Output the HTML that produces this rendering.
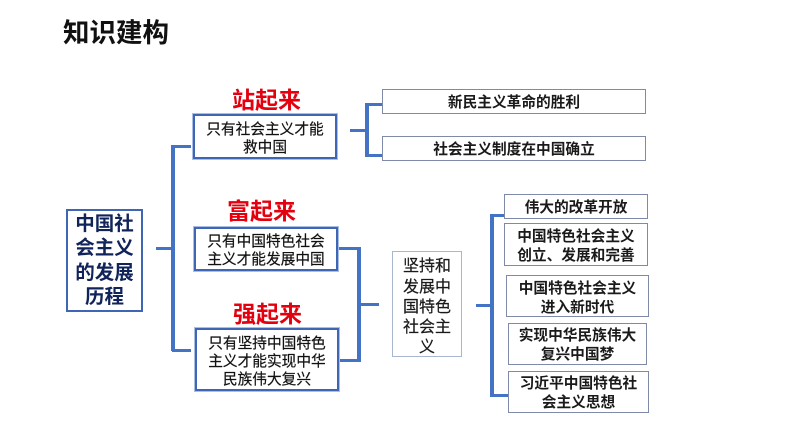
<!DOCTYPE html>
<html><head><meta charset="utf-8">
<style>
html,body{margin:0;padding:0;background:#fff}
#p{position:relative;width:794px;height:447px;overflow:hidden;background:#fff;font-family:"Liberation Sans","Noto Sans CJK SC",sans-serif;color:#111}
.l{position:absolute;background:#4472c4}
.b{position:absolute;box-sizing:border-box;background:#fff;display:flex;flex-direction:column;justify-content:center;align-items:center;text-align:center;white-space:nowrap}
.s{border:1px solid #7f89a8}
.d{border:2px solid #3f66b5;outline:1px solid #a9bfe6;font-size:14.7px;line-height:17.8px;-webkit-text-stroke:.2px #111}
.g{font-size:14.7px;font-weight:bold;line-height:19px;color:#1a1a1a}
.r{position:absolute;color:#e3000f;font-weight:bold;font-size:23px;line-height:28px;white-space:nowrap}
</style></head><body><div id="p">
<div style="position:absolute;left:63px;top:14px;font-size:26.5px;line-height:38px;font-weight:bold;color:#111;white-space:nowrap">知识建构</div>

<div class="l" style="left:171px;top:145px;width:3.5px;height:206px"></div>
<div class="l" style="left:172px;top:145px;width:19px;height:3px"></div>
<div class="l" style="left:172px;top:349px;width:19px;height:3px"></div>
<div class="l" style="left:156px;top:247px;width:17px;height:3px"></div>

<div class="l" style="left:350px;top:129px;width:16px;height:3px"></div>
<div class="l" style="left:365px;top:103px;width:3.5px;height:54px"></div>
<div class="l" style="left:365px;top:103px;width:18px;height:3px"></div>
<div class="l" style="left:365px;top:154px;width:18px;height:3px"></div>

<div class="l" style="left:338px;top:247px;width:22px;height:3px"></div>
<div class="l" style="left:338px;top:359px;width:22px;height:3px"></div>
<div class="l" style="left:357px;top:247px;width:3.5px;height:115px"></div>
<div class="l" style="left:359px;top:303px;width:20px;height:3px"></div>

<div class="l" style="left:476px;top:304px;width:16px;height:3px"></div>
<div class="l" style="left:490px;top:214px;width:3.5px;height:182px"></div>
<div class="l" style="left:490px;top:214px;width:16px;height:3px"></div>
<div class="l" style="left:490px;top:394px;width:18px;height:3px"></div>

<div class="b" style="left:66px;top:209px;width:77px;height:103px;border:2px solid #3f66b5;font-size:19.5px;font-weight:bold;line-height:24.3px;color:#10235a">中国社<br>会主义<br>的发展<br>历程</div>

<div class="r" style="left:232px;top:86px">站起来</div>
<div class="b d" style="left:193px;top:114px;width:144px;height:45px;padding-top:6px">只有社会主义才能<br>救中国</div>

<div class="r" style="left:227px;top:197px">富起来</div>
<div class="b d" style="left:194px;top:227px;width:144px;height:44px;padding-top:5px">只有中国特色社会<br>主义才能发展中国</div>

<div class="r" style="left:233px;top:300px">强起来</div>
<div class="b d" style="left:195px;top:328px;width:144px;height:63px;padding-top:7px">只有坚持中国特色<br>主义才能实现中华<br>民族伟大复兴</div>

<div class="b s g" style="left:382px;top:89px;width:264px;height:25px;padding-top:4px">新民主义革命的胜利</div>
<div class="b s g" style="left:382px;top:136px;width:264px;height:25px;padding-top:4px">社会主义制度在中国确立</div>

<div class="b" style="left:392px;top:251px;width:70px;height:106px;border:1px solid #a8b6d2;font-size:16px;line-height:20.3px;color:#1a1a1a;padding-top:8px;-webkit-text-stroke:.2px #1a1a1a">坚持和<br>发展中<br>国特色<br>社会主<br>义</div>

<div class="b s g" style="left:504px;top:194px;width:144px;height:25px;padding-top:4px">伟大的改革开放</div>
<div class="b s g" style="left:504px;top:223px;width:144px;height:43px;padding-top:4px">中国特色社会主义<br>创立、发展和完善</div>
<div class="b s g" style="left:506px;top:275px;width:143px;height:42px;padding-top:6px">中国特色社会主义<br>进入新时代</div>
<div class="b s g" style="left:508px;top:323px;width:139px;height:42px;padding-top:4px">实现中华民族伟大<br>复兴中国梦</div>
<div class="b s g" style="left:508px;top:371px;width:141px;height:42px;padding-top:4px">习近平中国特色社<br>会主义思想</div>
</div></body></html>
